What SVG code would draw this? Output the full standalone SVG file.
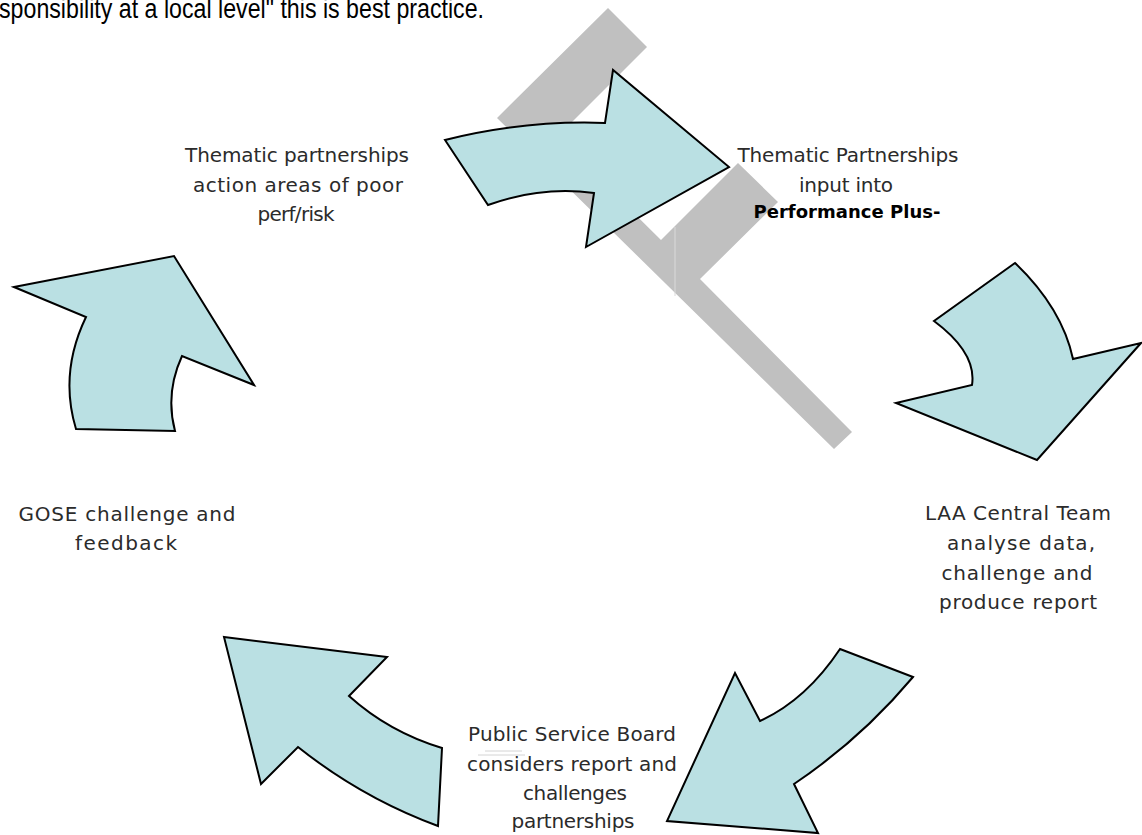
<svg xmlns="http://www.w3.org/2000/svg" width="1142" height="835" viewBox="0 0 1142 835">
  <style>
    .arrow { fill: #bae0e3; stroke: #000; stroke-width: 2; stroke-linejoin: miter; }
    .lbl { font-family: "DejaVu Sans", "Liberation Sans", sans-serif; font-size: 20px; fill: #2b2b2b; text-anchor: middle; }
    .bold { font-family: "DejaVu Sans", "Liberation Sans", sans-serif; font-size: 18px; font-weight: bold; fill: #000; text-anchor: middle; }
    .head { font-family: "Liberation Sans", Arial, sans-serif; font-size: 27px; fill: #000; }
  </style>
  <rect width="1142" height="835" fill="#fff"/>

  <g id="decor">
    <polygon points="608,8 647,47 557,137 661,240 738,163 778,202 700,279 852,432 834,449 497,118" fill="#c0c0c0"/>
    <line x1="675" y1="227" x2="675" y2="296" stroke="#dadada" stroke-width="1"/>
  </g>

  <text class="head" x="-1" y="17.5" textLength="485" lengthAdjust="spacingAndGlyphs">sponsibility at a local level" this is best practice.</text>

  <g id="connectors">
    <path id="arrow-top" class="arrow" d="M445,140 Q525,120 605,123 L613,70 L729,167 L586,247 L594,193 Q541,186 488,205 Z"/>
    <path id="arrow-right" class="arrow" d="M1015,263 Q1062,308 1073,359 L1141,343 L1037,460 L896,403 L972,385 Q977,353 934,321 Z"/>
    <path id="arrow-bottom-right" class="arrow" d="M840,649 L913,677 Q861,739 794,784 L818,833 L667,821 L735,673 L760,721 Q806,700 840,649 Z"/>
    <path id="arrow-bottom-left" class="arrow" d="M224,637 L387,657 L349,696 Q389,732 442,748 L438,826 Q362,798 298,747 L261,784 Z"/>
    <path id="arrow-left" class="arrow" d="M14,287 L174,256 L254,385 L182,356 Q165,393 175,431 L76,429 Q59,373 86,317 Z"/>
  </g>

  <g id="node-thematic-action">
    <text class="lbl" x="297" y="162" textLength="224">Thematic partnerships</text>
    <text class="lbl" x="298" y="192" textLength="210">action areas of poor</text>
    <text class="lbl" x="296" y="221" textLength="77">perf/risk</text>
  </g>

  <g id="node-thematic-input">
    <text class="lbl" x="848" y="162" textLength="221">Thematic Partnerships</text>
    <text class="lbl" x="846" y="192" textLength="94">input into</text>
    <text class="bold" x="847" y="218" textLength="187">Performance Plus-</text>
  </g>

  <g id="node-laa">
    <text class="lbl" x="1018" y="520" textLength="186">LAA Central Team</text>
    <text class="lbl" x="1021" y="550" textLength="148">analyse data,</text>
    <text class="lbl" x="1017" y="580" textLength="151">challenge and</text>
    <text class="lbl" x="1018" y="609" textLength="158">produce report</text>
  </g>

  <g id="node-psb">
    <line x1="485" y1="751" x2="522" y2="751" stroke="#d4d4d4" stroke-width="1"/>
    <line x1="478" y1="755" x2="525" y2="755" stroke="#d4d4d4" stroke-width="1"/>
    <text class="lbl" x="572" y="741" textLength="208">Public Service Board</text>
    <text class="lbl" x="572" y="771" textLength="210">considers report and</text>
    <text class="lbl" x="575" y="800" textLength="104">challenges</text>
    <text class="lbl" x="573" y="828" textLength="123">partnerships</text>
  </g>

  <g id="node-gose">
    <text class="lbl" x="127" y="521" textLength="217">GOSE challenge and</text>
    <text class="lbl" x="126" y="550" textLength="102">feedback</text>
  </g>
</svg>
